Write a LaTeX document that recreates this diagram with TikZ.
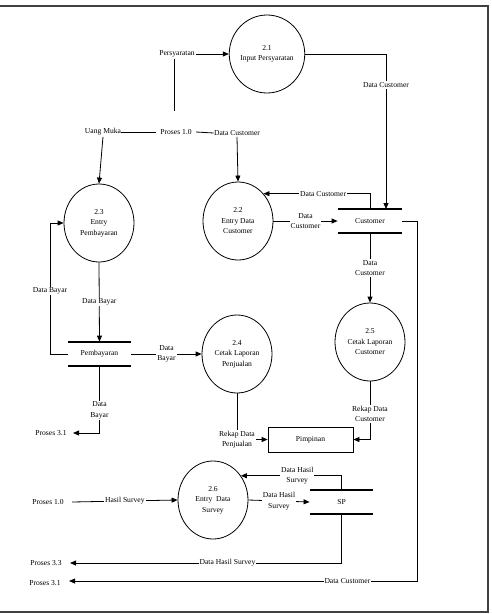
\documentclass[tikz,border=0pt]{standalone}
\usepackage{fontspec}
\setmainfont{Liberation Serif}
\usetikzlibrary{shapes.geometric,arrows.meta}
\newcommand{\fsz}{\fontsize{7.6}{10.5}\selectfont}
\begin{document}
\begin{tikzpicture}[x=1pt,y=-1pt,
  line width=0.8pt, font=\fsz,
  proc/.style={ellipse, draw, minimum width=70pt, minimum height=78pt, inner sep=0pt, align=center},
  store/.style={minimum width=64pt, minimum height=24pt, inner sep=0pt},
  storeline/.style={line width=2pt},
  ent/.style={draw, minimum width=85pt, minimum height=25pt, inner sep=0pt},
  txt/.style={inner sep=1pt},
  lbl/.style={fill=white, inner sep=1pt, align=center},
  arr/.style={-{Triangle[length=6pt,width=5pt]}}]
\useasboundingbox (0,0) rectangle (492,614);
% frame
\draw[line width=1.4pt, black!75] (0,6) -- (488,6) -- (488,612) -- (0,612);

% processes
\node[proc] (c21) at (267,54) {2.1\\Input Persyaratan};
\node[proc] (c22) at (238,221) {2.2\\Entry Data\\Customer};
\node[proc] (c23) at (99,223) {2.3\\Entry\\Pembayaran};
\node[proc] (c24) at (237,354) {2.4\\Cetak Laporan\\Penjualan};
\node[proc] (c25) at (370,342) {2.5\\Cetak Laporan\\Customer};
\node[proc] (c26) at (213,500) {2.6\\Entry\ \ Data\\Survey};

% stores
\node[store] (cust) at (370,221) {Customer};
\node[store, minimum width=63pt] (pemb) at (99.5,354) {Pembayaran};
\node[store, minimum width=63pt] (sp) at (341.5,502) {SP};
\foreach \s in {cust,pemb,sp}{
  \draw[storeline] (\s.north west) -- (\s.north east);
  \draw[storeline] (\s.south west) -- (\s.south east);
}

% entity
\node[ent] (pimp) at (310.5,439.5) {Pimpinan};

% free texts
\node[txt] (persy) at (177,54) {Persyaratan};
\node[txt, inner xsep=4pt] (p10a) at (176,132) {Proses 1.0};
\node[txt, inner xsep=0pt] (uang) at (103,132) {Uang Muka};
\node[txt, inner xsep=0pt] (dc1) at (237,133) {Data Customer};
\node[txt, inner xsep=6pt] (p31a) at (51,433) {Proses 3.1};
\node[txt, inner xsep=8pt] (p10b) at (48,502) {Proses 1.0};
\node[txt, inner xsep=8pt] (p33) at (46,563) {Proses 3.3};
\node[txt, inner xsep=8pt] (p31b) at (45,583) {Proses 3.1};

\coordinate (j1) at (174,111);
\coordinate (r2) at (417,581);
\coordinate (l1) at (50,354);
\coordinate (t1) at (386,209);

% connectors
\draw[arr] (persy.east) -- (c21.west);
\draw (persy.south -| j1) -- (j1);
\draw (p10a.west) -- (uang.east);
\draw (p10a.east) -- (dc1.west);
\draw[arr] (uang.south) -- (c23.north);
\draw[arr] (dc1.south) -- (c22.north);
\draw[arr] (c21.east) -| node[lbl, pos=0.6] {Data Customer} (t1);
\draw[arr] (c22.east) -- node[lbl] {Data\\Customer} (cust.west);
\draw[arr] (cust.north) |- node[lbl, pos=0.72] {Data Customer} (c22.47);
\draw[arr] (cust.east) -| (r2) -- node[lbl, pos=0.2] {Data Customer} (p31b.east |- r2);
\draw[arr] (cust.south) -- node[lbl] {Data\\Customer} (c25.north);
\draw[arr] (c25.south) |- node[lbl, pos=0.28] {Rekap Data\\Customer} (pimp.east);
\draw[arr] (c24.south) |- node[lbl, pos=0.5] {Rekap Data\\Penjualan} (pimp.west);
\draw[arr] (c23.south) -- node[lbl] {Data Bayar} (pemb.north);
\draw[arr] (pemb.west) -- (l1) |- node[lbl, pos=0.24] {Data Bayar} (c23.west);
\draw[arr] (pemb.east) -- node[lbl] {Data\\Bayar} (c24.west);
\draw[arr] (pemb.south) |- node[lbl, pos=0.33] {Data\\Bayar} (p31a.east);
\draw[arr] (p10b.east) -- node[lbl] {Hasil Survey} (c26.west);
\draw[arr] (c26.east) -- node[lbl] {Data Hasil\\Survey} (sp.west);
\draw[arr] (sp.north) |- node[lbl, pos=0.72] {Data Hasil\\Survey} (c26.41);
\draw[arr] (sp.south) |- node[lbl, pos=0.71] {Data Hasil Survey} (p33.east);
\end{tikzpicture}
\end{document}
